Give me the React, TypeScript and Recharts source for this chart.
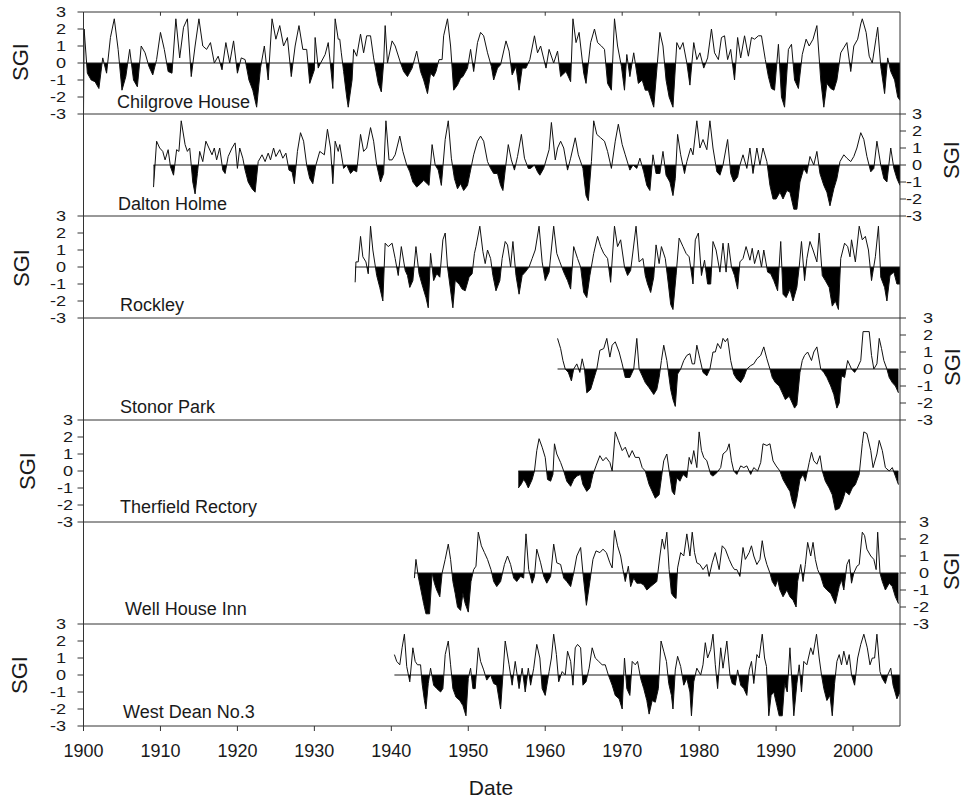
import React from 'react'
import { ComposedChart, Line, Area, XAxis, YAxis, ReferenceLine } from 'recharts'

// decade ticks shared by every panel, SGI scale for every panel
const DECADES = [1900, 1910, 1920, 1930, 1940, 1950, 1960, 1970, 1980, 1990, 2000]
const SGI_TICKS = [-3, -2, -1, 0, 1, 2, 3]
const X_MAX = 2006.1

const SITE_NAMES = [
  'Chilgrove House', 'Dalton Holme', 'Rockley', 'Stonor Park',
  'Therfield Rectory', 'Well House Inn', 'West Dean No.3',
]

// [year, SGI]
const CHILGROVE: [number, number][] = [
  [1900.0, -3.0], [1900.08, 2.0], [1900.5, -0.6], [1901.0, -1.0], [1901.5, -1.1], [1902.0, -1.5], [1902.5, 0.3],
  [1903.0, -0.6], [1903.5, 1.5], [1904.0, 2.6], [1904.5, 0.8], [1905.0, -1.6], [1905.5, -0.8], [1906.0, 0.8],
  [1906.5, -1.0], [1907.0, -1.4], [1907.5, 1.0], [1908.0, 0.6], [1908.5, -0.2], [1909.0, -0.7], [1909.5, 0.2],
  [1910.0, 1.8], [1910.5, 0.8], [1911.0, -0.5], [1911.5, -0.6], [1912.0, 2.6], [1912.5, 0.3], [1913.0, 2.1],
  [1913.5, 2.6], [1914.0, -0.8], [1914.5, 1.0], [1915.0, 2.6], [1915.5, 1.0], [1916.0, 0.8], [1916.5, 1.2],
  [1917.0, 0.0], [1917.5, 0.4], [1918.0, -0.4], [1918.5, 1.2], [1919.0, 0.0], [1919.5, 1.3], [1920.0, -0.6],
  [1920.5, 0.3], [1921.0, 0.2], [1921.5, -1.0], [1922.0, -1.6], [1922.5, -2.6], [1923.0, -0.3], [1923.5, 1.0],
  [1924.0, -1.0], [1924.5, 2.6], [1925.0, 1.4], [1925.5, 2.2], [1926.0, 1.0], [1926.5, 1.5], [1927.0, -0.8],
  [1927.5, 1.0], [1928.0, 2.2], [1928.5, 0.8], [1929.0, 0.8], [1929.4, -1.2], [1930.0, -0.4], [1930.1, 1.5],
  [1930.5, -0.3], [1930.7, -0.1], [1931.4, 0.5], [1931.8, 1.2], [1932.4, -1.5], [1932.7, 2.6], [1933.1, 1.4],
  [1933.3, 1.4], [1933.5, 0.6], [1933.8, -0.5], [1934.2, -2.0], [1934.4, -2.6], [1934.9, -1.0], [1935.1, 0.8],
  [1935.5, 0.4], [1936.0, 1.7], [1936.4, 0.6], [1936.8, 1.6], [1937.3, 1.6], [1937.7, 0.3], [1938.3, -1.2],
  [1938.7, -1.7], [1939.0, 0.0], [1939.2, 2.2], [1939.5, 0.0], [1940.1, 1.3], [1940.5, 1.0], [1941.2, 0.0],
  [1941.6, -0.5], [1942.1, -0.8], [1942.7, -0.3], [1943.3, 0.7], [1943.8, -0.5], [1944.2, -1.0], [1944.7, -1.8],
  [1945.1, -0.6], [1945.5, -0.8], [1945.8, -0.5], [1946.2, 0.2], [1946.6, 0.2], [1946.8, 1.6], [1947.3, 2.6],
  [1947.7, 1.0], [1948.1, -1.6], [1948.6, -1.3], [1949.0, -0.9], [1949.3, -0.8], [1949.9, -0.3], [1950.3, 0.8],
  [1950.7, -0.5], [1951.2, 1.2], [1951.6, 1.8], [1952.0, 1.6], [1952.5, 0.6], [1953.0, -0.2], [1953.3, -1.0],
  [1953.8, -0.3], [1954.2, -0.1], [1954.9, 1.3], [1955.3, 0.7], [1955.7, -0.7], [1956.2, -0.2], [1956.6, -1.6],
  [1957.0, -0.3], [1957.5, -0.3], [1958.0, 0.2], [1958.6, 1.6], [1959.0, 0.6], [1959.4, 1.0], [1960.1, -0.3],
  [1960.5, 0.8], [1961.1, 0.0], [1961.6, 0.7], [1962.0, -0.8], [1962.7, -0.5], [1963.3, -1.1], [1963.6, 2.6],
  [1964.0, 1.2], [1964.4, 1.8], [1965.0, -0.6], [1965.3, -1.2], [1965.9, 1.2], [1966.4, 2.0], [1966.8, 1.2],
  [1967.3, 1.0], [1967.7, 0.8], [1968.1, -1.2], [1968.6, -1.6], [1969.0, 2.6], [1969.4, 1.0], [1969.9, -0.2],
  [1970.3, -1.6], [1970.6, 0.5], [1971.0, -0.8], [1971.5, 0.6], [1972.1, -1.2], [1972.6, -1.0], [1973.0, -1.6],
  [1973.4, -1.6], [1974.1, -2.6], [1974.9, 1.8], [1975.3, 1.0], [1975.7, -1.0], [1976.1, -2.0], [1976.6, -2.6],
  [1977.1, 1.2], [1977.5, 0.8], [1977.9, 1.2], [1978.4, 0.0], [1978.8, -1.3], [1979.3, 1.2], [1979.7, 0.2],
  [1980.1, 0.6], [1980.6, -0.3], [1981.1, 0.3], [1981.6, 2.0], [1982.0, 0.6], [1982.5, 0.2], [1982.9, 1.5],
  [1983.3, 1.6], [1983.7, 0.2], [1984.1, 0.8], [1984.6, -1.0], [1985.0, 1.5], [1985.4, 0.3], [1985.9, 1.6],
  [1986.4, 0.4], [1986.8, 1.5], [1987.2, 1.4], [1987.7, 1.6], [1988.1, 1.6], [1988.6, 0.2], [1989.0, -0.8],
  [1989.4, -1.5], [1989.8, -1.6], [1990.3, 1.1], [1990.7, -2.0], [1991.1, -2.6], [1991.6, 0.8], [1992.0, 1.1],
  [1992.4, -1.0], [1992.9, -1.5], [1993.4, 0.5], [1993.9, 1.4], [1994.3, 1.0], [1994.8, 1.4], [1995.3, 2.2],
  [1995.8, -1.0], [1996.2, -2.6], [1996.6, -1.2], [1997.1, -1.5], [1997.5, -1.6], [1997.9, -1.0], [1998.4, 0.6],
  [1998.8, 0.9], [1999.2, 1.2], [1999.7, -0.5], [2000.1, 1.0], [2000.6, 1.4], [2001.0, 2.3], [2001.2, 2.6],
  [2001.7, 1.8], [2002.1, 0.4], [2002.5, 0.0], [2003.0, 1.5], [2003.2, 2.1], [2003.6, -0.2], [2004.1, -1.8],
  [2004.5, 0.3], [2004.9, -0.5], [2005.4, -1.0], [2005.8, -2.0], [2006.1, -2.2],
]

const DALTON: [number, number][] = [
  [1909.1, -1.3], [1909.5, 1.4], [1909.9, 1.0], [1910.3, 0.8], [1910.6, 0.3], [1911.0, 0.9], [1911.3, -0.1],
  [1911.7, -0.6], [1912.1, 0.9], [1912.4, 0.8], [1912.7, 2.6], [1913.2, 1.2], [1913.5, 0.8], [1913.8, 1.0],
  [1914.2, -1.0], [1914.5, -1.7], [1914.8, -0.5], [1915.1, 0.8], [1915.5, 0.2], [1915.9, 1.4], [1916.3, 1.0],
  [1916.7, 0.6], [1917.0, 1.0], [1917.3, 0.3], [1917.7, 1.0], [1918.1, -0.3], [1918.4, -0.5], [1918.8, 0.5],
  [1919.3, 1.0], [1919.7, 1.3], [1920.0, -0.2], [1920.3, 1.0], [1920.7, 0.4], [1921.0, -0.3], [1921.4, -1.0],
  [1921.9, -1.4], [1922.3, -1.6], [1922.7, 0.2], [1923.2, 0.6], [1923.6, 0.2], [1924.0, 0.7], [1924.3, 0.3],
  [1924.7, 1.0], [1925.0, 0.5], [1925.5, 0.9], [1925.9, 0.4], [1926.3, 0.7], [1926.7, -0.3], [1927.1, -0.4],
  [1927.4, -1.1], [1927.8, 0.8], [1928.2, 1.9], [1928.6, 1.4], [1929.0, 0.0], [1929.4, -0.8], [1929.8, -1.1],
  [1930.2, 0.0], [1930.7, 0.8], [1931.3, 0.6], [1931.7, 2.1], [1932.1, 1.0], [1932.4, -1.1], [1932.7, 1.4],
  [1933.1, 0.8], [1933.3, 1.2], [1933.8, -0.2], [1934.2, 0.0], [1934.7, -0.5], [1935.1, -0.3], [1935.5, -0.4],
  [1936.0, 1.8], [1936.4, 0.8], [1936.8, 1.0], [1937.3, 2.2], [1937.7, 1.4], [1938.1, 0.0], [1938.6, -1.0],
  [1939.0, -0.5], [1939.3, 2.6], [1939.7, 0.3], [1940.1, 0.3], [1940.5, 0.6], [1941.1, 1.7], [1941.5, 0.8],
  [1942.0, 0.0], [1942.4, -0.4], [1942.8, -1.0], [1943.3, -1.3], [1943.8, -1.1], [1944.2, -0.9], [1944.9, -1.2],
  [1945.3, 1.2], [1945.7, 0.0], [1946.1, -0.3], [1946.5, -1.2], [1947.0, 1.5], [1947.4, 2.6], [1947.8, 0.4],
  [1948.2, -0.8], [1948.6, -1.4], [1949.0, -1.1], [1949.4, -1.5], [1949.9, -1.2], [1950.3, -0.3], [1950.7, 0.6],
  [1951.2, 1.4], [1951.6, 1.7], [1952.0, 1.4], [1952.5, 0.2], [1952.9, -0.2], [1953.3, -0.5], [1953.8, -0.5],
  [1954.2, -1.2], [1954.5, -1.5], [1954.8, -0.3], [1955.2, 1.2], [1955.6, 0.3], [1956.0, -0.3], [1956.4, 0.5],
  [1956.9, 1.8], [1957.3, 0.4], [1957.8, -0.2], [1958.1, -0.2], [1958.6, 0.0], [1959.0, -0.4], [1959.3, -0.6],
  [1959.8, -0.2], [1960.5, 0.9], [1960.8, 2.5], [1961.3, 0.3], [1961.6, 1.0], [1962.0, 1.4], [1962.4, 1.0],
  [1962.9, -0.3], [1963.3, 0.4], [1963.9, 1.6], [1964.3, 0.6], [1964.9, -0.2], [1965.3, -1.8], [1965.6, -2.1],
  [1966.0, 0.2], [1966.3, 2.6], [1966.7, 1.8], [1967.2, 1.6], [1967.7, 1.4], [1968.1, 0.8], [1968.6, -0.2],
  [1969.1, 1.4], [1969.5, 2.4], [1970.0, 1.2], [1970.4, 0.6], [1971.0, -0.3], [1971.4, 0.0], [1971.9, -0.2],
  [1972.3, 0.4], [1972.8, -0.4], [1973.2, -1.2], [1973.6, -1.5], [1974.0, 0.6], [1974.4, -0.5], [1974.9, -0.5],
  [1975.3, 0.8], [1975.7, -0.6], [1976.2, -1.0], [1976.6, -1.8], [1976.9, -0.8], [1977.2, 1.8], [1977.6, 0.6],
  [1978.1, -0.5], [1978.4, 0.2], [1978.9, 1.0], [1979.2, 0.6], [1979.7, 2.6], [1980.1, 1.0], [1980.5, 1.5],
  [1981.0, 0.9], [1981.4, 2.6], [1981.8, 1.0], [1982.3, -0.4], [1982.7, -0.6], [1983.1, 0.0], [1983.7, 1.5],
  [1984.1, -0.5], [1984.5, -1.0], [1985.0, -0.7], [1985.3, 0.0], [1985.7, 0.6], [1986.2, -0.2], [1986.6, 1.0],
  [1987.0, -0.5], [1987.5, 1.0], [1987.9, 0.0], [1988.3, 1.0], [1988.8, 0.2], [1989.2, -1.2], [1989.6, -2.0],
  [1990.0, -2.0], [1990.5, -1.6], [1990.9, -2.0], [1991.4, -1.5], [1991.8, -1.6], [1992.3, -2.6], [1992.7, -2.6],
  [1993.1, -1.0], [1993.6, -0.2], [1994.0, -0.5], [1994.4, 0.5], [1994.9, 0.0], [1995.3, 0.8], [1995.7, -0.5],
  [1996.2, -1.2], [1996.6, -1.6], [1997.0, -2.4], [1997.5, -1.4], [1997.9, -0.8], [1998.3, 0.2], [1998.8, 0.6],
  [1999.2, 0.4], [1999.7, 0.2], [2000.1, 0.5], [2000.5, 1.0], [2001.0, 1.9], [2001.4, 1.5], [2001.8, 0.5],
  [2002.3, -0.4], [2002.7, -0.2], [2003.1, 1.4], [2003.6, 0.0], [2004.0, -0.8], [2004.4, -1.0], [2004.9, 1.0],
  [2005.3, -0.2], [2005.7, -0.8], [2006.1, -1.2],
]

const ROCKLEY: [number, number][] = [
  [1935.3, -0.9], [1935.4, 0.3], [1935.7, 0.3], [1936.0, 1.8], [1936.3, 0.6], [1936.7, 0.3], [1937.0, -0.4],
  [1937.3, 2.4], [1937.6, 1.0], [1938.1, -0.5], [1938.5, -1.2], [1938.9, -2.0], [1939.2, 1.4], [1939.6, 1.2],
  [1940.1, 1.4], [1940.5, 0.5], [1940.9, -0.5], [1941.3, 1.2], [1941.8, -0.2], [1942.1, -0.5], [1942.4, -1.2],
  [1942.8, -0.8], [1943.2, 1.2], [1943.6, -0.4], [1944.1, -1.2], [1944.5, -1.8], [1944.8, -2.4], [1945.1, 0.8],
  [1945.5, -0.8], [1945.9, -0.4], [1946.3, -0.6], [1946.7, 1.6], [1947.0, 2.0], [1947.3, 0.0], [1948.0, -2.4],
  [1948.3, -0.8], [1948.8, -1.0], [1949.2, -1.3], [1949.6, -1.4], [1950.1, -0.6], [1950.5, -0.4], [1950.8, 0.8],
  [1951.0, 1.2], [1951.5, 2.4], [1951.9, 0.9], [1952.2, 0.2], [1952.5, 1.0], [1952.9, 0.5], [1953.2, -0.5],
  [1953.6, -1.4], [1954.1, -0.8], [1954.4, 0.5], [1954.8, 1.5], [1955.1, 1.3], [1955.5, 0.0], [1955.8, 1.5],
  [1956.2, -0.5], [1956.6, -1.6], [1957.0, -0.5], [1957.4, -0.3], [1957.9, 0.0], [1958.3, 0.5], [1958.7, 1.0],
  [1959.2, 2.4], [1959.6, 0.3], [1960.0, -0.8], [1960.5, -0.3], [1961.1, 2.4], [1961.5, 0.8], [1961.9, 0.3],
  [1962.4, -0.3], [1962.9, -0.8], [1963.3, -1.3], [1963.7, 1.2], [1964.2, 0.5], [1964.6, 0.0], [1965.0, -1.5],
  [1965.4, -1.8], [1965.8, -0.5], [1966.3, 0.8], [1966.8, 1.8], [1967.2, 1.2], [1967.6, 0.8], [1968.1, 0.5],
  [1968.5, -0.9], [1969.0, 2.4], [1969.4, 1.2], [1969.8, 1.6], [1970.3, 0.0], [1970.7, -0.5], [1971.1, -0.2],
  [1971.8, 2.4], [1972.2, 0.3], [1972.7, 0.5], [1973.0, -0.5], [1973.3, -1.0], [1973.7, -1.5], [1974.1, -0.6],
  [1974.4, 1.3], [1974.8, 0.2], [1975.1, 1.2], [1975.6, 0.5], [1976.0, -1.0], [1976.3, -2.2], [1976.6, -2.5],
  [1977.0, -0.5], [1977.4, 1.7], [1977.9, 1.2], [1978.3, 0.8], [1978.7, 0.6], [1979.2, -1.0], [1979.5, 1.6],
  [1979.9, 2.0], [1980.3, -0.5], [1980.7, 0.4], [1981.1, -1.0], [1981.5, -1.0], [1981.8, 1.5], [1982.2, 1.0],
  [1982.7, -0.3], [1983.1, 1.4], [1983.5, -0.3], [1983.8, 1.4], [1984.2, 0.0], [1984.6, -0.5], [1985.0, -1.3],
  [1985.3, 0.3], [1985.7, 0.5], [1986.1, 1.2], [1986.6, 0.4], [1986.9, 1.1], [1987.2, 0.2], [1987.7, 1.0],
  [1988.1, 0.0], [1988.4, 1.0], [1988.9, -0.3], [1989.3, -0.4], [1989.7, -0.8], [1990.2, -1.4], [1990.6, 1.5],
  [1990.9, -1.6], [1991.3, -1.8], [1991.8, -1.3], [1992.2, -2.0], [1992.7, -1.2], [1993.0, 0.0], [1993.3, 1.5],
  [1993.7, -0.8], [1994.0, 0.5], [1994.4, 1.5], [1994.8, 1.0], [1995.3, 0.3], [1995.6, 2.0], [1996.0, -0.5],
  [1996.4, -0.8], [1996.9, -1.2], [1997.3, -2.3], [1997.7, -2.0], [1998.1, -2.5], [1998.4, 0.5], [1998.9, 1.4],
  [1999.3, 1.2], [1999.6, 0.6], [1999.8, 1.6], [2000.3, 0.3], [2000.8, 2.4], [2001.2, 1.6], [2001.6, 1.8],
  [2002.0, 1.0], [2002.4, -0.8], [2002.9, 0.6], [2003.3, 2.4], [2003.6, -0.6], [2004.1, -1.2], [2004.4, -2.0],
  [2004.8, -0.5], [2005.3, -0.3], [2005.7, -1.0], [2006.1, -1.0],
]

const STONOR: [number, number][] = [
  [1961.6, 1.8], [1962.0, 1.2], [1962.3, 0.5], [1962.6, 0.0], [1963.0, -0.2], [1963.4, -0.7], [1963.7, 0.0],
  [1964.1, 0.3], [1964.5, -0.2], [1964.8, 0.6], [1965.1, 0.0], [1965.4, -1.4], [1965.9, -1.2], [1966.3, -0.6],
  [1966.7, 0.0], [1967.1, 1.1], [1967.6, 1.2], [1968.0, 1.8], [1968.4, 0.7], [1968.7, 1.4], [1969.1, 1.6],
  [1969.6, 1.0], [1970.0, 0.3], [1970.4, -0.5], [1971.0, -0.5], [1971.5, 0.0], [1971.9, 1.8], [1972.2, 0.0],
  [1972.6, -0.4], [1973.0, -0.8], [1973.5, -1.1], [1974.1, -1.5], [1974.5, -1.2], [1974.8, -0.5], [1975.1, 0.5],
  [1975.4, 1.4], [1975.8, 0.5], [1976.3, -1.2], [1976.6, -1.8], [1976.9, -2.2], [1977.2, -0.3], [1977.6, 0.0],
  [1978.0, 0.5], [1978.4, 0.8], [1978.8, 0.9], [1979.1, 0.3], [1979.4, 0.3], [1979.7, 1.4], [1980.1, 0.6],
  [1980.5, -0.2], [1981.0, -0.4], [1981.4, 0.0], [1981.8, 1.0], [1982.1, 1.0], [1982.4, 1.5], [1982.8, 1.2],
  [1983.1, 1.8], [1983.4, 1.6], [1983.7, 1.8], [1984.1, 0.5], [1984.5, -0.3], [1984.9, -0.6], [1985.4, -0.8],
  [1985.8, -0.5], [1986.2, 0.0], [1986.7, 0.2], [1987.1, 0.3], [1987.5, 0.6], [1988.0, 0.8], [1988.4, 1.3],
  [1988.8, 0.6], [1989.2, 0.0], [1989.5, -0.5], [1989.9, -0.8], [1990.4, -1.0], [1990.8, -1.4], [1991.2, -1.8],
  [1991.7, -1.6], [1992.1, -2.0], [1992.4, -2.3], [1992.7, -2.1], [1993.1, -0.2], [1993.4, 0.5], [1993.7, 0.8],
  [1994.1, 1.0], [1994.6, 0.5], [1994.9, 1.0], [1995.3, 1.3], [1995.8, 0.0], [1996.2, -0.2], [1996.6, -0.5],
  [1997.1, -1.0], [1997.5, -1.5], [1997.9, -2.3], [1998.2, -2.0], [1998.5, -0.4], [1998.9, -0.5], [1999.3, 0.5],
  [1999.8, 0.0], [2000.2, -0.2], [2000.5, 0.0], [2001.0, 0.5], [2001.3, 2.2], [2002.1, 2.2], [2002.4, 0.8],
  [2002.7, 0.0], [2003.1, 0.3], [2003.4, 1.8], [2003.7, 1.2], [2004.0, 0.5], [2004.4, 0.0], [2004.7, -0.5],
  [2005.1, -0.8], [2005.5, -1.0], [2005.9, -1.4],
]

const THERFIELD: [number, number][] = [
  [1956.5, -1.0], [1956.85, -0.8], [1957.2, -0.5], [1957.5, -0.7], [1957.8, -1.0], [1958.3, -0.5], [1958.6, 0.0],
  [1958.9, 1.2], [1959.2, 1.9], [1959.6, 1.4], [1960.0, 0.8], [1960.3, -0.5], [1960.7, -0.6], [1961.0, -0.2],
  [1961.2, 1.6], [1961.5, 1.0], [1962.0, 0.5], [1962.4, 0.0], [1962.8, -0.6], [1963.3, -0.9], [1963.7, -0.5],
  [1964.1, -0.3], [1964.6, -0.2], [1964.9, -0.8], [1965.4, -1.2], [1965.8, -1.0], [1966.2, -0.2], [1966.6, 0.3],
  [1967.1, 0.9], [1967.5, 0.6], [1967.9, 0.8], [1968.4, 0.5], [1968.7, 0.0], [1969.1, 2.3], [1969.5, 1.8],
  [1970.0, 1.2], [1970.4, 1.4], [1970.9, 0.8], [1971.3, 1.2], [1971.7, 0.8], [1972.2, 0.8], [1972.6, 0.2],
  [1973.0, 0.0], [1973.5, -0.8], [1973.9, -1.2], [1974.3, -1.6], [1974.8, -1.4], [1975.1, -0.4], [1975.4, 0.6],
  [1975.8, 1.0], [1976.2, -0.3], [1976.5, -1.2], [1976.8, -1.4], [1977.1, -0.4], [1977.5, -0.6], [1977.9, -0.2],
  [1978.4, -0.4], [1978.7, 0.8], [1979.0, 0.4], [1979.3, 1.2], [1979.7, 0.2], [1980.0, 2.3], [1980.3, 1.2],
  [1980.6, 0.8], [1981.0, 0.6], [1981.5, -0.2], [1981.8, -0.3], [1982.3, -0.1], [1982.8, 0.2], [1983.1, 1.0],
  [1983.6, 1.2], [1983.9, 1.6], [1984.2, 0.6], [1984.5, 0.0], [1984.9, -0.2], [1985.4, 0.3], [1985.8, 0.2],
  [1986.2, 0.3], [1986.7, -0.2], [1987.1, 0.2], [1987.6, 0.0], [1988.0, 0.5], [1988.3, 1.6], [1988.8, 1.5],
  [1989.2, 1.6], [1989.6, 0.6], [1990.0, 0.3], [1990.5, 0.0], [1990.9, -0.5], [1991.4, -0.9], [1991.8, -1.2],
  [1992.1, -1.8], [1992.4, -2.2], [1992.7, -1.6], [1993.1, -0.5], [1993.5, -0.2], [1993.8, -0.6], [1994.3, 0.5],
  [1994.6, 1.1], [1994.9, 0.6], [1995.3, 0.4], [1995.7, 0.9], [1996.0, 0.0], [1996.4, -0.6], [1996.9, -1.0],
  [1997.3, -1.4], [1997.7, -2.3], [1998.2, -2.2], [1998.6, -1.8], [1999.0, -1.2], [1999.5, -1.4], [1999.9, -1.0],
  [2000.3, -0.8], [2000.8, -0.2], [2001.2, 1.6], [2001.4, 2.3], [2001.8, 2.2], [2002.3, 1.2], [2002.6, 0.2],
  [2003.1, 1.0], [2003.4, 1.8], [2003.8, 1.2], [2004.2, 0.2], [2004.7, 0.0], [2005.1, 0.2], [2005.5, -0.3],
  [2005.9, -0.8],
]

const WELL_HOUSE: [number, number][] = [
  [1943.0, -0.3], [1943.2, 0.8], [1943.5, -0.2], [1943.85, -1.0], [1944.2, -1.8], [1944.5, -2.4], [1944.97, -2.4],
  [1945.3, 0.0], [1945.6, -0.6], [1945.9, -1.0], [1946.3, -1.4], [1946.6, 0.0], [1947.0, 0.8], [1947.4, 1.7],
  [1947.7, 0.8], [1948.0, -0.5], [1948.3, -1.2], [1948.6, -2.0], [1949.0, -2.2], [1949.3, -1.2], [1949.6, -1.8],
  [1950.0, -2.3], [1950.35, -0.5], [1950.7, 0.2], [1951.0, 0.4], [1951.3, 2.4], [1951.7, 1.6], [1952.1, 1.2],
  [1952.5, 0.8], [1952.95, 0.2], [1953.3, -0.5], [1953.7, -0.8], [1954.2, -0.5], [1954.7, 0.5], [1955.1, 1.0],
  [1955.5, 0.5], [1955.9, -0.3], [1956.3, -0.5], [1956.8, -0.2], [1957.2, -0.3], [1957.5, 2.3], [1957.85, 0.2],
  [1958.3, -0.6], [1958.6, -0.2], [1958.9, 1.4], [1959.4, 0.6], [1959.8, -0.2], [1960.2, -0.6], [1960.7, -0.2],
  [1961.1, 1.7], [1961.5, 0.6], [1962.0, 0.5], [1962.4, -0.3], [1962.8, -0.5], [1963.3, -0.8], [1963.7, 0.0],
  [1964.1, 1.0], [1964.6, 1.5], [1964.9, 0.0], [1965.35, -1.9], [1965.8, -0.5], [1966.2, 0.8], [1966.6, 1.3],
  [1967.1, 1.2], [1967.5, 1.4], [1967.95, 1.2], [1968.4, 0.6], [1968.7, 0.3], [1969.0, 2.5], [1969.4, 1.6],
  [1969.8, 1.0], [1970.1, 0.2], [1970.4, -0.5], [1970.8, 0.4], [1971.1, -0.8], [1971.5, -0.3], [1971.9, -0.6],
  [1972.4, -0.6], [1972.8, -0.7], [1973.2, -1.0], [1973.7, -0.8], [1974.5, -0.5], [1974.9, 1.0], [1975.2, 2.0],
  [1975.5, 1.4], [1975.8, 2.4], [1976.1, 0.2], [1976.4, -1.2], [1976.7, -1.4], [1977.0, -1.5], [1977.2, 0.3],
  [1977.6, 1.2], [1978.0, 1.0], [1978.4, 2.3], [1978.8, 1.0], [1979.1, 2.4], [1979.4, 1.2], [1979.7, 0.6],
  [1980.1, 0.5], [1980.5, 0.2], [1981.0, 0.5], [1981.3, -0.2], [1981.7, 0.6], [1982.1, 1.2], [1982.6, 0.2],
  [1983.0, 1.6], [1983.4, 1.4], [1983.9, 0.8], [1984.3, 0.4], [1984.6, 0.2], [1984.9, 0.2], [1985.3, -0.2],
  [1985.7, 1.5], [1986.0, 0.8], [1986.5, 1.2], [1986.8, 1.6], [1987.1, 1.0], [1987.5, 0.5], [1987.9, 0.8],
  [1988.2, 1.9], [1988.5, 1.0], [1988.8, 0.5], [1989.2, 0.0], [1989.5, -0.5], [1989.9, -0.8], [1990.2, -0.4],
  [1990.5, -1.0], [1990.9, -1.4], [1991.4, -1.0], [1991.8, -1.4], [1992.2, -1.6], [1992.6, -2.0], [1992.8, -0.5],
  [1993.2, 0.5], [1993.5, -0.5], [1993.8, 0.5], [1994.1, 1.8], [1994.5, 1.0], [1994.8, 1.8], [1995.1, 0.8],
  [1995.4, 0.2], [1995.8, -0.2], [1996.2, -0.8], [1996.6, -1.0], [1997.1, -1.2], [1997.5, -1.6], [1997.7, -1.8],
  [1998.2, -0.8], [1998.5, -0.4], [1998.8, -1.0], [1999.2, 0.5], [1999.5, 0.8], [1999.8, -0.6], [2000.1, 0.0],
  [2000.5, 0.4], [2000.8, 0.5], [2001.2, 2.4], [2001.5, 2.2], [2001.8, 1.4], [2002.3, 1.0], [2002.7, 0.8],
  [2003.0, 0.2], [2003.2, 2.4], [2003.5, 0.0], [2003.8, -0.5], [2004.2, -1.0], [2004.7, -0.6], [2005.1, -0.8],
  [2005.5, -1.4], [2005.9, -1.8],
]

const WEST_DEAN: [number, number][] = [
  [1940.4, 1.2], [1940.7, 0.8], [1941.1, 0.6], [1941.4, 1.6], [1941.7, 2.4], [1942.0, 0.5], [1942.4, -0.4],
  [1942.8, 1.6], [1943.1, 0.8], [1943.4, 0.6], [1943.8, 0.6], [1944.0, -0.5], [1944.3, -1.5], [1944.5, -2.0],
  [1944.8, -0.5], [1945.1, 0.4], [1945.5, -0.6], [1945.9, -0.8], [1946.4, -1.0], [1946.7, -0.8], [1947.0, 1.2],
  [1947.4, 2.0], [1947.7, 0.6], [1948.0, -0.8], [1948.4, -1.3], [1948.9, -1.5], [1949.3, -1.8], [1949.7, -2.4],
  [1950.0, -0.2], [1950.3, 0.4], [1950.6, -0.8], [1950.9, -0.8], [1951.3, 1.6], [1951.6, 0.8], [1952.0, 0.3],
  [1952.4, -0.3], [1952.9, 0.0], [1953.3, -0.5], [1953.7, -0.6], [1954.2, -2.0], [1954.5, 0.0], [1954.8, 2.0],
  [1955.3, 0.6], [1955.7, -0.6], [1956.1, 0.8], [1956.6, -0.8], [1957.0, 0.4], [1957.4, -1.0], [1957.8, 0.4],
  [1958.1, -0.6], [1958.5, 0.4], [1958.9, 1.8], [1959.3, 1.0], [1959.6, -0.8], [1960.0, -1.2], [1960.5, 0.2],
  [1960.8, 1.0], [1961.1, 2.4], [1961.45, 1.2], [1961.75, -0.4], [1962.2, 0.2], [1962.6, 0.0], [1962.9, 1.4],
  [1963.3, 0.8], [1963.6, -0.6], [1963.9, 1.6], [1964.2, 1.8], [1964.6, 1.6], [1964.9, -0.6], [1965.3, -0.4],
  [1965.7, 0.4], [1966.1, 1.6], [1966.5, 1.0], [1966.95, 0.8], [1967.4, 0.6], [1967.8, 0.6], [1968.2, 0.0],
  [1968.7, -0.6], [1969.1, -1.2], [1969.6, -1.4], [1970.0, -2.0], [1970.3, 1.0], [1970.6, -0.8], [1971.0, -1.2],
  [1971.3, 0.8], [1971.7, 0.6], [1972.0, 0.8], [1972.4, -0.2], [1972.8, -0.8], [1973.2, -1.5], [1973.5, -2.3],
  [1973.9, -1.5], [1974.3, -1.6], [1974.7, -0.8], [1975.05, 2.0], [1975.4, 1.4], [1975.75, 0.8], [1976.05, -0.5],
  [1976.4, -1.2], [1976.6, -2.0], [1976.9, 0.3], [1977.2, 1.1], [1977.6, 0.5], [1978.0, -0.6], [1978.4, -0.2],
  [1978.8, -1.0], [1979.0, -2.4], [1979.3, -0.4], [1979.7, 0.4], [1980.2, 0.0], [1980.5, 0.6], [1980.8, 1.9],
  [1981.1, 1.0], [1981.5, 1.5], [1981.8, 2.4], [1982.1, 0.6], [1982.4, -0.8], [1982.8, 1.6], [1983.1, 0.4],
  [1983.6, 2.0], [1984.0, 0.0], [1984.3, -0.5], [1984.7, -0.6], [1985.0, 0.3], [1985.4, -0.6], [1985.8, -0.8],
  [1986.2, -1.2], [1986.5, 0.3], [1986.8, 0.8], [1987.1, -0.5], [1987.5, 1.2], [1987.8, 1.0], [1988.2, 2.4],
  [1988.5, 1.0], [1988.75, 0.5], [1989.05, -2.4], [1989.35, -1.2], [1989.7, -1.0], [1990.1, -1.8], [1990.4, -2.4],
  [1990.8, -2.4], [1991.1, -0.5], [1991.45, -1.0], [1991.8, 1.6], [1992.1, -0.8], [1992.3, -2.4], [1992.7, -0.5],
  [1993.0, 0.6], [1993.3, -1.0], [1993.6, 0.8], [1994.0, 0.6], [1994.5, 1.6], [1994.8, 1.2], [1995.25, 2.4],
  [1995.6, 1.0], [1995.9, 0.0], [1996.2, -0.8], [1996.6, -1.5], [1997.0, -1.2], [1997.3, -2.4], [1997.6, -0.5],
  [1997.9, 0.8], [1998.2, 1.2], [1998.5, 0.6], [1998.8, 1.4], [1999.2, 0.6], [1999.5, 1.2], [1999.8, 0.0],
  [2000.2, -0.6], [2000.6, 1.0], [2001.0, 1.8], [2001.4, 2.4], [2001.85, 1.6], [2002.2, 0.6], [2002.5, 1.0],
  [2002.8, 1.0], [2003.1, 2.4], [2003.5, 0.2], [2003.8, -0.2], [2004.2, -0.5], [2004.5, 0.0], [2004.9, 0.4],
  [2005.2, -0.6], [2005.7, -1.4], [2006.1, -1.0],
]

const SERIES = [CHILGROVE, DALTON, ROCKLEY, STONOR, THERFIELD, WELL_HOUSE, WEST_DEAN]

// page layout: where each panel's labels sit
const TOP0 = 12
const PANEL_H = 102
const PAD = 12
const FONT = '"Liberation Sans", Arial, sans-serif'
const INK = '#1a1a1a'
const FRAME = '#333'

const LAYOUT = [
  { side: 'left', tickEnd: 66, sgiX: 20, sgiY: 62, nameX: 117, nameY: 108 },
  { side: 'right', tickEnd: 922, sgiX: 951, sgiY: 160, nameX: 118, nameY: 210 },
  { side: 'left', tickEnd: 66, sgiX: 21, sgiY: 268, nameX: 120, nameY: 311 },
  { side: 'right', tickEnd: 933, sgiX: 952, sgiY: 367, nameX: 120, nameY: 413 },
  { side: 'left', tickEnd: 73, sgiX: 27, sgiY: 471, nameX: 120, nameY: 513 },
  { side: 'right', tickEnd: 929, sgiX: 951, sgiY: 571, nameX: 125, nameY: 615 },
  { side: 'left', tickEnd: 66, sgiX: 19, sgiY: 675, nameX: 123, nameY: 718 },
]

// the source figure's tick numbers are drawn a little wide, so stretch them sideways
const sgiTick = (endX: number) => (props: any) => (
  <text
    transform={`translate(${endX},${props.y}) scale(1.25,1)`}
    dy="0.36em"
    textAnchor="end"
    fontSize={14.5}
    fontFamily={FONT}
    fill={INK}
  >
    {props.payload.value}
  </text>
)

function Panel({ index }: { index: number }) {
  const series = SERIES[index]
  const lay = LAYOUT[index]
  const first = index === 0
  const last = index === SERIES.length - 1
  const rows = series.map(([t, v]) => ({ t, v }))
  const vals = series.map((d) => d[1])
  const hi = Math.max(0, ...vals)
  const lo = Math.min(0, ...vals)
  const off = hi / (hi - lo)
  const axisH = last ? 44 : 0
  const height = PAD + PANEL_H + (last ? axisH : PAD)
  const top = TOP0 + index * PANEL_H - PAD
  const gid = `neg-${index}`
  const onLeft = lay.side === 'left'

  return (
    <div style={{ position: 'absolute', left: 0, top }}>
      <ComposedChart
        width={965}
        height={height}
        data={rows}
        margin={{ top: PAD, right: 0, bottom: last ? 0 : PAD, left: 0 }}
      >
        <defs>
          <linearGradient id={gid} x1="0" y1="0" x2="0" y2="1">
            <stop offset={off} stopColor="#000" stopOpacity={0} />
            <stop offset={off} stopColor="#000" stopOpacity={1} />
          </linearGradient>
        </defs>
        <XAxis
          dataKey="t"
          type="number"
          domain={[1900, X_MAX]}
          ticks={DECADES}
          interval={0}
          orientation="bottom"
          height={axisH}
          axisLine={false}
          tickSize={last ? 5 : 4}
          tickMargin={13}
          stroke={FRAME}
          tick={last ? { fontSize: 18, fontFamily: FONT, fill: INK } : false}
          allowDataOverflow
        />
        <YAxis
          yAxisId="l"
          width={83.5}
          domain={[-3, 3]}
          ticks={SGI_TICKS}
          interval={0}
          stroke={FRAME}
          tickSize={6}
          tickLine={onLeft}
          tick={onLeft ? sgiTick(lay.tickEnd) : false}
          allowDataOverflow
        />
        <YAxis
          yAxisId="r"
          orientation="right"
          width={65}
          domain={[-3, 3]}
          ticks={SGI_TICKS}
          interval={0}
          stroke={FRAME}
          tickSize={6}
          tickLine={!onLeft}
          tick={!onLeft ? sgiTick(lay.tickEnd) : false}
          allowDataOverflow
        />
        {first && <ReferenceLine yAxisId="l" y={3} stroke={FRAME} strokeWidth={1} />}
        {first &&
          DECADES.map((d) => (
            <ReferenceLine
              key={d}
              yAxisId="l"
              segment={[{ x: d, y: 3 }, { x: d, y: 2.78 }]}
              stroke={FRAME}
              strokeWidth={1}
            />
          ))}
        <ReferenceLine yAxisId="l" y={-3} stroke={FRAME} strokeWidth={1} />
        <Area
          yAxisId="l"
          dataKey="v"
          type="linear"
          baseValue={0}
          stroke="none"
          fill={`url(#${gid})`}
          fillOpacity={1}
          isAnimationActive={false}
        />
        <ReferenceLine
          yAxisId="l"
          segment={[{ x: series[0][0], y: 0 }, { x: series[series.length - 1][0], y: 0 }]}
          stroke={INK}
          strokeWidth={1}
        />
        <Line
          yAxisId="l"
          dataKey="v"
          type="linear"
          stroke="#111"
          strokeWidth={1}
          dot={false}
          isAnimationActive={false}
        />
      </ComposedChart>
    </div>
  )
}

export default function App() {
  return (
    <div style={{ position: 'absolute', left: 0, top: 0, width: 965, height: 800, background: '#fff' }}>
      {SERIES.map((_, i) => (
        <Panel key={i} index={i} />
      ))}
      <svg
        width={965}
        height={800}
        style={{ position: 'absolute', left: 0, top: 0, pointerEvents: 'none' }}
      >
        {LAYOUT.map((lay, i) => (
          <g key={i} fontFamily={FONT} fill={INK}>
            <text x={lay.nameX} y={lay.nameY} fontSize={18}>
              {SITE_NAMES[i]}
            </text>
            <text
              transform={`translate(${lay.sgiX},${lay.sgiY}) rotate(-90)`}
              textAnchor="middle"
              dy="0.36em"
              fontSize={22}
            >
              SGI
            </text>
          </g>
        ))}
        <text x={491} y={795} textAnchor="middle" fontSize={21} fontFamily={FONT} fill={INK}>
          Date
        </text>
      </svg>
    </div>
  )
}
